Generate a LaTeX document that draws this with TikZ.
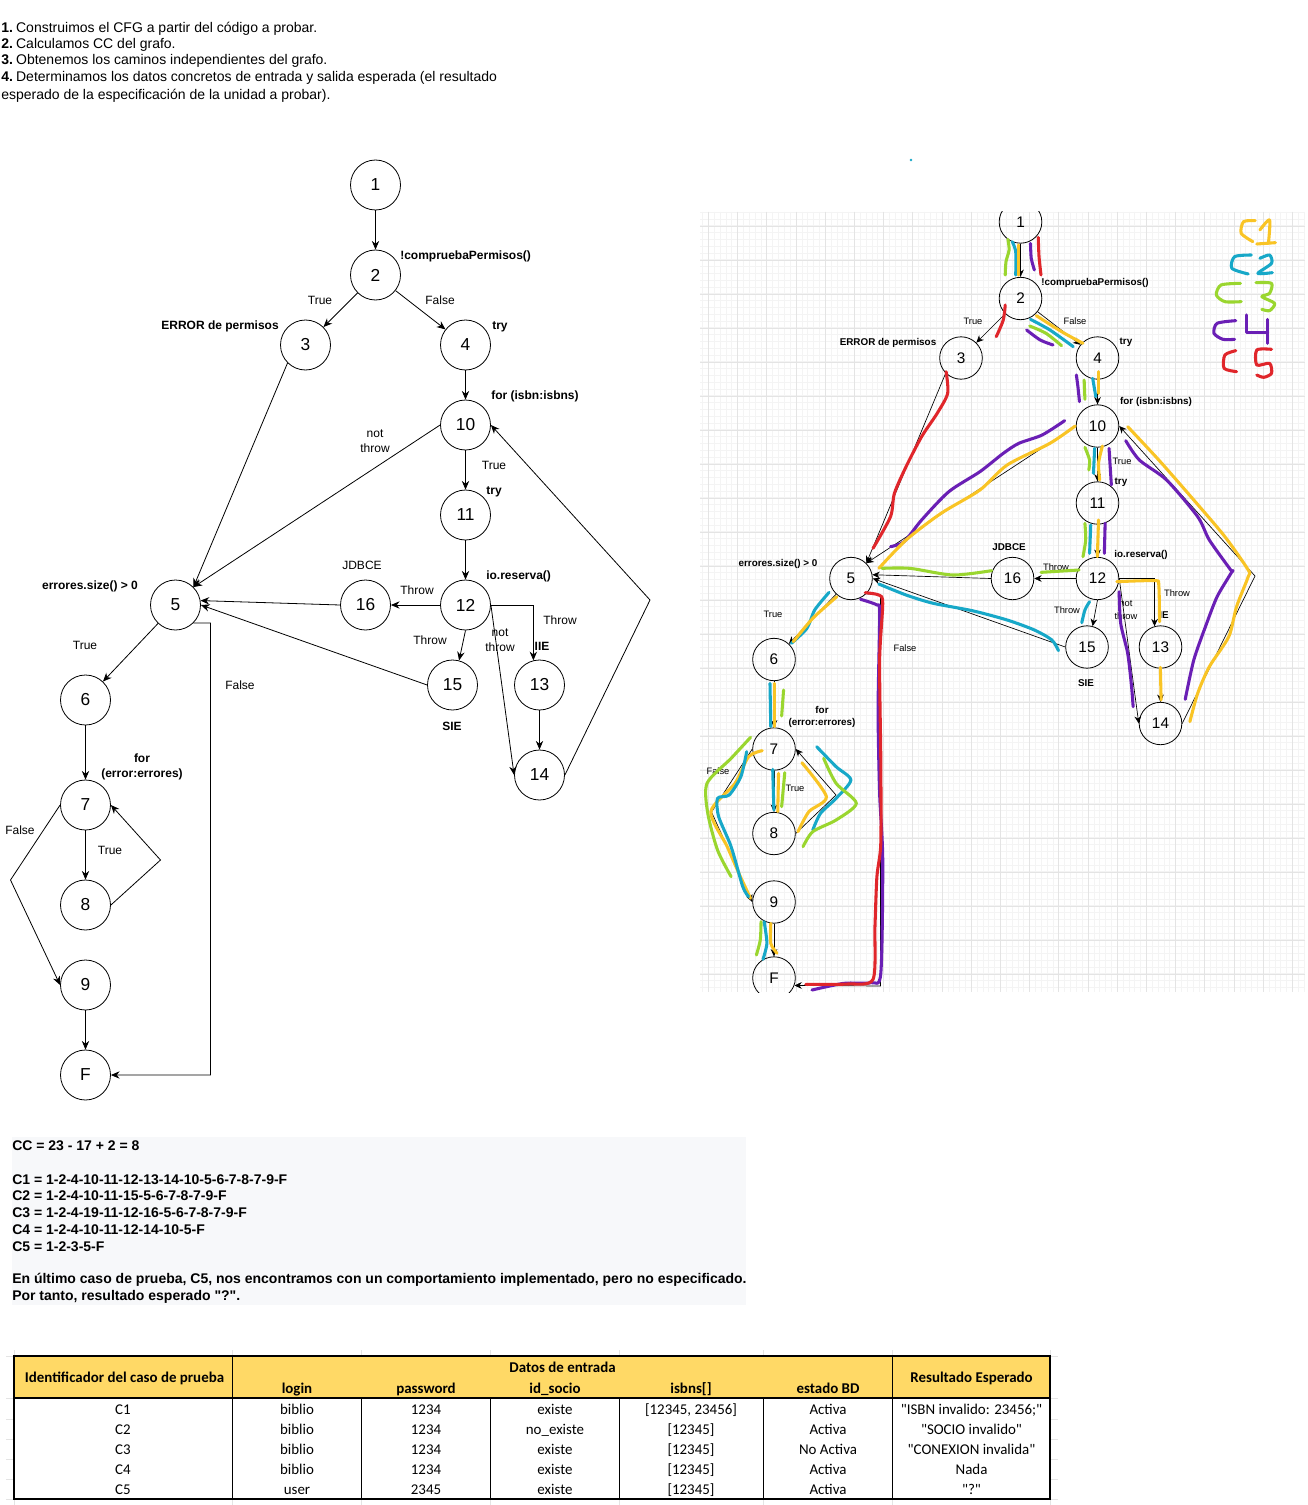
\documentclass[tikz,border=0pt]{standalone}
\usepackage{fontspec}
\setmainfont[Ligatures=TeXOff]{Liberation Sans}
\newfontfamily\tablefont{Carlito}
\usetikzlibrary{arrows.meta,shapes.geometric}
\definecolor{cyel}{HTML}{F9C425}
\definecolor{cblu}{HTML}{17A8C8}
\definecolor{cgre}{HTML}{9AD62F}
\definecolor{cpur}{HTML}{6A1FB5}
\definecolor{cred}{HTML}{E0262B}
\definecolor{hdr}{HTML}{FFD966}
\definecolor{gridl}{HTML}{F4F4F4}
\definecolor{gridm}{HTML}{E4E4E4}
\definecolor{boxbg}{HTML}{F7F8FA}
\tikzset{
 lnode/.style={draw,circle,minimum size=37.5pt,inner sep=0pt,font=\fontsize{13}{15}\selectfont,line width=.6pt},
 rnode/.style={draw,ellipse,minimum width=32pt,minimum height=31.8pt,inner sep=0pt,font=\fontsize{11.5}{13}\selectfont,line width=.6pt},
 arr/.style={-{Stealth[length=6.5pt,width=5.5pt]},line width=.6pt},
 rarr/.style={-{Stealth[length=5.5pt,width=5pt]},line width=.5pt},
 lab/.style={font=\fontsize{9}{11.5}\selectfont,align=center,inner sep=0pt},
 blab/.style={font=\bfseries\fontsize{9}{11.5}\selectfont,align=center,inner sep=0pt,yshift=-1.2pt},
 rlab/.style={font=\fontsize{7}{9.5}\selectfont,align=center,inner sep=0pt},
 brlab/.style={font=\bfseries\fontsize{7.4}{9.5}\selectfont,align=center,inner sep=0pt,yshift=-.6pt},
 txt/.style={font=\fontsize{10.5}{12.5}\selectfont,anchor=west,inner sep=0pt,yshift=-1pt},
 btxt/.style={font=\bfseries\fontsize{10.5}{12.5}\selectfont,anchor=west,inner sep=0pt,yshift=-.6pt},
 cell/.style={font=\tablefont\fontsize{11.2}{13}\selectfont,inner sep=0pt,anchor=base},
 hcell/.style={font=\tablefont\bfseries\fontsize{11.2}{13}\selectfont,inner sep=0pt,anchor=base},
 st/.style={line width=2.3pt,line cap=round,line join=round},
}
\newcommand{\hs}[2]{\draw[st,#1] plot[smooth,tension=.45] coordinates {#2};}
\newcommand{\trow}[8]{%
 \node[cell] (r#1a) at (123,#1+5) {#2};
 \node[cell] (r#1b) at (297,#1+5) {#3};
 \node[cell] (r#1c) at (426,#1+5) {#4};
 \node[cell] (r#1d) at (555,#1+5) {#5};
 \node[cell] (r#1e) at (691,#1+5) {#6};
 \node[cell] (r#1f) at (828,#1+5) {#7};
 \node[cell] (r#1g) at (971.5,#1+5) {#8};
}
\newcommand{\nb}[1]{\textbf{#1}\hspace{-1.5pt}}
\begin{document}
\begin{tikzpicture}[x=0.75pt,y=-0.75pt]
\useasboundingbox (0,0) rectangle (1308,1505);
\fill[white] (0,0) rectangle (1308,1505);
% intro
\node[txt] (i1) at (1,27) {\nb{1.} Construimos el CFG a partir del código a probar.};
\node[txt] (i2) at (1,43.5) {\nb{2.} Calculamos CC del grafo.};
\node[txt] (i3) at (1,60) {\nb{3.} Obtenemos los caminos independientes del grafo.};
\node[txt] (i4) at (1,77) {\nb{4.} Determinamos los datos concretos de entrada y salida esperada (el resultado};
\node[txt] (i5) at (1,94) {esperado de la especificación de la unidad a probar).};
\fill[cblu] (911,160) circle (1pt);
% left graph
\node[lnode] (l1) at (375.5,185) {1};
\node[lnode] (l2) at (375.5,275) {2};
\node[lnode] (l3) at (305.5,345) {3};
\node[lnode] (l4) at (465.5,345) {4};
\node[lnode] (l10) at (465.5,425) {10};
\node[lnode] (l11) at (465.5,515) {11};
\node[lnode] (l12) at (465.5,605) {12};
\node[lnode] (l16) at (365.5,605) {16};
\node[lnode] (l15) at (452.5,685) {15};
\node[lnode] (l13) at (539.5,685) {13};
\node[lnode] (l14) at (539.5,775) {14};
\node[lnode] (l5) at (175.5,605) {5};
\node[lnode] (l6) at (85.5,700) {6};
\node[lnode] (l7) at (85.5,805) {7};
\node[lnode] (l8) at (85.5,905) {8};
\node[lnode] (l9) at (85.5,985) {9};
\node[lnode] (lF) at (85.5,1075) {F};
\coordinate (lb14) at (650,600);
\coordinate (lb5) at (210.5,623);
\coordinate (lb8) at (160.5,860);
\coordinate (lb7) at (10.5,880);
\draw[arr] (l1)--(l2);
\draw[arr] (l2)--(l3);
\draw[arr] (l2)--(l4);
\draw[arr] (l3.south west)--(l5.45);
\draw[arr] (l4)--(l10);
\draw[arr] (l10)--(l11);
\draw[arr] (l10.west)--(l5.45);
\draw[arr] (l11)--(l12);
\draw[arr] (l12)--(l16);
\draw[arr] (l16.west)--(l5.10);
\draw[arr] (l12.south)--(l15.75);
\draw[arr] (l15.west)--(l5.east);
\draw[arr] (l12.east) -| (l13.104);
\draw[arr] (l12.east) -- (l14.west);
\draw[arr] (l13)--(l14);
\draw[arr] (l14.east) -- (lb14) -- (l10.east);
\draw[arr] (l5)--(l6);
\draw[arr] (l5.-45) -- (lb5) |- (lF.east);
\draw[arr] (l6)--(l7);
\draw[arr] (l7)--(l8);
\draw[arr] (l8.east) -- (lb8) -- (l7.east);
\draw[arr] (l7.west) -- (lb7) -- (l9.west);
\draw[arr] (l9)--(lF);
% left labels
\node[blab,anchor=west] (la1) at (400,255) {!compruebaPermisos()};
\node[lab] (la2) at (320,300) {True};
\node[lab] (la3) at (440,300) {False};
\node[blab,anchor=east] (la4) at (279,325) {ERROR de permisos};
\node[blab,anchor=west] (la5) at (492,325) {try};
\node[blab,anchor=west] (la6) at (491,395) {for (isbn:isbns)};
\node[lab] (la7) at (375,441) {not\\throw};
\node[lab] (la8) at (494,465) {True};
\node[blab] (la9) at (494,490) {try};
\node[lab] (la10) at (362,565) {JDBCE};
\node[blab,anchor=west] (la11) at (486,575) {io.reserva()};
\node[lab] (la12) at (417,590) {Throw};
\node[lab] (la13) at (430,640) {Throw};
\node[lab] (la14) at (560,620) {Throw};
\node[lab] (la15) at (500,640) {not\\throw};
\node[blab] (la16) at (542,645) {IIE};
\node[blab] (la17) at (452,725) {SIE};
\node[blab] (la18) at (90,585) {errores.size() > 0};
\node[lab] (la19) at (85,645) {True};
\node[lab] (la20) at (240,685) {False};
\node[blab] (la21) at (142,765) {for\\(error:errores)};
\node[lab] (la22) at (20,830) {False};
\node[lab] (la23) at (110,850) {True};
% right picture
\begin{scope}
\clip (700,212) rectangle (1305,992);
\foreach \i in {0,...,104} \draw[gridl,line width=.4pt] ({702.5+\i*5.84},212) -- ({702.5+\i*5.84},992);
\foreach \i in {0,...,115} \draw[gridl,line width=.4pt] (700,{212+\i*6.8}) -- (1305,{212+\i*6.8});
\foreach \i in {0,...,20} \draw[gridm,line width=.4pt] ({708.3+\i*29.2},212) -- ({708.3+\i*29.2},992);
\foreach \i in {0,...,22} \draw[gridm,line width=.4pt] (700,{226+\i*34}) -- (1305,{226+\i*34});
\node[rnode] (r1) at (1020.5,222) {1};
\node[rnode] (r2) at (1020.5,298.5) {2};
\node[rnode] (r3) at (961,358) {3};
\node[rnode] (r4) at (1097.5,358) {4};
\node[rnode] (r10) at (1097.5,426) {10};
\node[rnode] (r11) at (1097.5,503) {11};
\node[rnode] (r12) at (1097.5,578.5) {12};
\node[rnode] (r16) at (1012.5,578.5) {16};
\node[rnode] (r5) at (851,578.5) {5};
\node[rnode] (r15) at (1087,647) {15};
\node[rnode] (r13) at (1160.5,647) {13};
\node[rnode] (r14) at (1160.5,723.5) {14};
\node[rnode] (r6) at (774,659.5) {6};
\node[rnode] (r7) at (774,749) {7};
\node[rnode] (r8) at (774,833.5) {8};
\node[rnode] (r9) at (774,902) {9};
\node[rnode] (rF) at (774,978) {F};
\coordinate (rb14) at (1255,576);
\coordinate (rb5) at (880.5,595);
\coordinate (rb5b) at (880.5,986);
\coordinate (rb8) at (836,795);
\coordinate (rb7) at (711.5,812);
\draw[rarr] (r1)--(r2);
\draw[rarr] (r2)--(r3);
\draw[rarr] (r2)--(r4);
\draw[rarr] (r3.south west)--(r5.45);
\draw[rarr] (r4)--(r10);
\draw[rarr] (r10)--(r11);
\draw[rarr] (r10.west)--(r5.45);
\draw[rarr] (r11)--(r12);
\draw[rarr] (r12)--(r16);
\draw[rarr] (r16.west)--(r5.10);
\draw[rarr] (r12.south)--(r15.75);
\draw[rarr] (r15.west)--(r5.east);
\draw[rarr] (r12.east) -| (r13.106);
\draw[rarr] (r12.east) -- (r14.west);
\draw[rarr] (r13)--(r14);
\draw[rarr] (r14.east) -- (rb14) -- (r10.east);
\draw[rarr] (r5)--(r6);
\draw[rarr] (r5.-45) -- (rb5) -- (rb5b) -- (rF.-20);
\draw[rarr] (r6)--(r7);
\draw[rarr] (r7)--(r8);
\draw[rarr] (r8.east) -- (rb8) -- (r7.east);
\draw[rarr] (r7.west) -- (rb7) -- (r9.west);
\draw[rarr] (r9)--(rF);
\node[brlab,anchor=west] (ra1) at (1041,282) {!compruebaPermisos()};
\node[rlab] (ra2) at (973,321) {True};
\node[rlab] (ra3) at (1075,321) {False};
\node[brlab] (ra4) at (888,342) {ERROR de permisos};
\node[brlab] (ra5) at (1126,342) {try};
\node[brlab] (ra6) at (1156,401) {for (isbn:isbns)};
\node[rlab] (ra7) at (1122,461) {True};
\node[brlab] (ra8) at (1121,482) {try};
\node[brlab] (ra9) at (1009,546) {JDBCE};
\node[brlab] (ra10) at (1141,554) {io.reserva()};
\node[brlab] (ra11) at (778,563) {errores.size() > 0};
\node[rlab] (ra12) at (1056,567) {Throw};
\node[rlab] (ra13) at (1177,593) {Throw};
\node[rlab] (ra14) at (1126,610) {not\\throw};
\node[brlab] (ra15) at (1164,614) {IE};
\node[rlab] (ra16) at (1067,610) {Throw};
\node[rlab] (ra17) at (773,614) {True};
\node[rlab] (ra18) at (905,648) {False};
\node[brlab] (ra19) at (1086,682) {SIE};
\node[brlab] (ra20) at (822,716) {for\\(error:errores)};
\node[rlab] (ra21) at (718,771) {False};
\node[rlab] (ra22) at (795,788) {True};
% hand strokes, first zoom frame
\begin{scope}[shift={(700,200)},x=.2916pt,y=-.25pt]
\hs{cgre}{(792,118)(795,150)(787,185)(785,225)}
\hs{cblu}{(803,125)(812,155)(812,225)}
\hs{cyel}{(820,135)(820,225)}
\hs{cpur}{(850,130)(852,175)(860,210)}
\hs{cred}{(870,112)(872,170)(877,225)}
\hs{cred}{(785,315)(780,360)(762,410)}
\hs{cyel}{(865,347)(930,395)(985,430)}
\hs{cblu}{(850,358)(900,390)(960,440)}
\hs{cgre}{(848,378)(890,400)(930,437)}
\hs{cpur}{(840,390)(875,420)(908,435)}
\hs{cpur}{(968,525)(972,560)(976,605)}
\hs{cgre}{(988,540)(990,598)}
\hs{cblu}{(1010,535)(1018,590)}
\hs{cyel}{(1024,515)(1024,580)}
\hs{cpur}{(938,662)(880,705)(820,730)(780,760)(720,815)(640,875)(570,960)(525,1025)(490,1040)}
\hs{cyel}{(965,678)(900,730)(790,795)(720,870)(620,940)(530,1020)(460,1105)}
\hs{cred}{(633,515)(637,580)(610,640)(570,710)(530,800)(500,880)(490,950)(445,1045)}
\hs{cgre}{(990,742)(1002,780)(1000,810)}
\hs{cblu}{(1015,745)(1012,820)}
\hs{cyel}{(1035,738)(1025,790)(1028,840)}
\hs{cpur}{(1052,745)(1055,800)(1058,855)}
\hs{cgre}{(990,970)(992,1020)(985,1070)}
\hs{cblu}{(1005,975)(1002,1060)}
\hs{cyel}{(1025,960)(1022,1070)}
\hs{cpur}{(1042,970)(1040,1060)}
\hs{cgre}{(877,1117)(975,1110)}
\hs{cgre}{(468,1105)(540,1105)(650,1125)(750,1112)}
\hs{cyel}{(1100,680)(1180,780)(1270,900)(1350,1010)(1410,1110)(1410,1130)(1380,1220)(1360,1310)(1310,1400)(1280,1480)(1260,1565)}
\hs{cpur}{(1095,722)(1130,780)(1200,840)(1280,950)(1310,1020)(1365,1110)(1368,1115)(1330,1190)(1300,1280)(1270,1380)(1248,1498)}
% legend
\hs{cyel}{(1428,62)(1398,65)(1392,100)(1422,125)}
\hs{cyel}{(1440,90)(1465,60)(1462,130)}
\hs{cyel}{(1432,132)(1480,128)}
\hs{cblu}{(1418,165)(1375,170)(1368,205)(1410,222)}
\hs{cblu}{(1440,175)(1465,165)(1470,190)(1435,220)(1472,218)}
\hs{cgre}{(1390,250)(1340,255)(1328,285)(1350,305)(1392,305)}
\hs{cgre}{(1430,248)(1470,250)(1465,280)(1445,290)(1478,310)(1465,332)(1445,328)}
\hs{cpur}{(1378,362)(1330,370)(1322,400)(1345,418)(1375,418)}
\draw[st,cpur] (1405,345) -- (1405,398) -- (1460,398);
\hs{cpur}{(1460,358)(1460,430)}
\hs{cred}{(1378,452)(1350,465)(1348,505)(1380,515)}
\hs{cred}{(1470,448)(1432,450)(1432,495)(1465,490)(1470,520)(1450,532)(1432,525)}
\end{scope}
% hand strokes, second zoom frame
\begin{scope}[shift={(700,560)},x=.2916pt,y=-.25pt]
\hs{cyel}{(1072,65)(1170,62)(1180,75)(1182,185)}
\hs{cblu}{(922,272)(905,240)(860,210)(790,180)(700,152)(600,130)(530,105)(460,72)}
\hs{cblu}{(1002,125)(990,150)(982,188)}
\hs{cpur}{(1078,95)(1082,190)(1100,280)(1110,380)(1114,440)}
\hs{cyel}{(1184,322)(1186,420)}
\hs{cblu}{(332,97)(295,150)(275,205)(235,250)}
\hs{cyel}{(352,110)(290,175)(240,245)}
\hs{cpur}{(413,118)(455,135)(462,160)(458,450)(462,700)(470,900)(465,1240)(440,1268)(370,1270)(288,1290)}
\hs{cred}{(425,98)(460,105)(470,130)(462,300)(465,600)(465,850)(455,950)(450,1100)(445,1258)(380,1272)(272,1273)}
\hs{cblu}{(180,370)(182,500)}
\hs{cyel}{(192,370)(192,500)}
\hs{cgre}{(215,390)(210,468)}
\hs{cblu}{(187,628)(190,750)}
\hs{cyel}{(202,640)(200,755)}
\hs{cgre}{(218,638)(210,740)}
\hs{cyel}{(262,608)(325,710)(280,755)(252,815)}
\hs{cblu}{(300,560)(350,620)(388,660)(350,715)(310,760)(290,810)}
\hs{cgre}{(318,595)(350,670)(402,730)(350,780)(290,815)(265,860)}
\hs{cgre}{(130,532)(80,595)(18,670)(20,760)(45,870)(80,950)}
\hs{cyel}{(160,572)(125,590)(90,670)(28,755)(70,860)(100,940)(130,1015)}
\hs{cblu}{(120,575)(105,650)(75,705)(45,715)(48,770)(80,860)(110,980)(125,1010)}
\hs{cgre}{(157,1085)(155,1140)(145,1185)}
\hs{cblu}{(165,1085)(172,1150)(162,1198)}
\hs{cyel}{(182,1090)(182,1150)(198,1180)}
\end{scope}
\end{scope}
% CC text
\fill[boxbg] (12,1137) rectangle (746,1305);
\node[btxt] (c0) at (12,1145) {CC = 23 - 17 + 2 = 8};
\node[btxt] (c1) at (12,1179) {C1 = 1-2-4-10-11-12-13-14-10-5-6-7-8-7-9-F};
\node[btxt] (c2) at (12,1195) {C2 = 1-2-4-10-11-15-5-6-7-8-7-9-F};
\node[btxt] (c3) at (12,1212) {C3 = 1-2-4-19-11-12-16-5-6-7-8-7-9-F};
\node[btxt] (c4) at (12,1229) {C4 = 1-2-4-10-11-12-14-10-5-F};
\node[btxt] (c5) at (12,1246) {C5 = 1-2-3-5-F};
\node[btxt] (c6) at (12,1279) {En último caso de prueba, C5, nos encontramos con un comportamiento implementado, pero no especificado.};
\node[btxt] (c7) at (12,1296) {Por tanto, resultado esperado "?".};
% table
\foreach \x in {14,232,361,490,619,763,892,1050} \draw[gridm,line width=.4pt] (\x,1350) -- (\x,1505);
\foreach \y in {1356,1398,1419.5,1439.5,1459.5,1479.5,1499} {\draw[gridm,line width=.4pt] (6,\y) -- (14,\y); \draw[gridm,line width=.4pt] (1050,\y) -- (1058,\y);}
\fill[hdr] (14,1356) rectangle (1050,1398);
\node[hcell] (h0) at (124.5,1382.5) {Identificador del caso de prueba};
\node[hcell] (h1) at (562.5,1372.5) {Datos de entrada};
\node[hcell] (h2) at (297,1393.5) {login};
\node[hcell] (h3) at (426,1393.5) {password};
\node[hcell] (h4) at (555,1393.5) {id\_socio};
\node[hcell] (h5) at (691,1393.5) {isbns[]};
\node[hcell] (h6) at (828,1393.5) {estado BD};
\node[hcell] (h7) at (971.5,1382.5) {Resultado Esperado};
\trow{1409.5}{C1}{biblio}{1234}{existe}{[12345, 23456]}{Activa}{"ISBN invalido: 23456;"}
\trow{1429.5}{C2}{biblio}{1234}{no\_existe}{[12345]}{Activa}{"SOCIO invalido"}
\trow{1449.5}{C3}{biblio}{1234}{existe}{[12345]}{No Activa}{"CONEXION invalida"}
\trow{1469.5}{C4}{biblio}{1234}{existe}{[12345]}{Activa}{Nada}
\trow{1489.5}{C5}{user}{2345}{existe}{[12345]}{Activa}{"?"}
\draw[line width=.75pt] (232,1356) -- (232,1499) (892,1356) -- (892,1499);
\draw[line width=.55pt] (361,1398) -- (361,1499) (490,1398) -- (490,1499) (619,1398) -- (619,1499) (763,1398) -- (763,1499);
\draw[line width=1.4pt] (14,1398) -- (1050,1398);
\draw[line width=1.5pt] (14,1356) rectangle (1050,1499);
\end{tikzpicture}
\end{document}
